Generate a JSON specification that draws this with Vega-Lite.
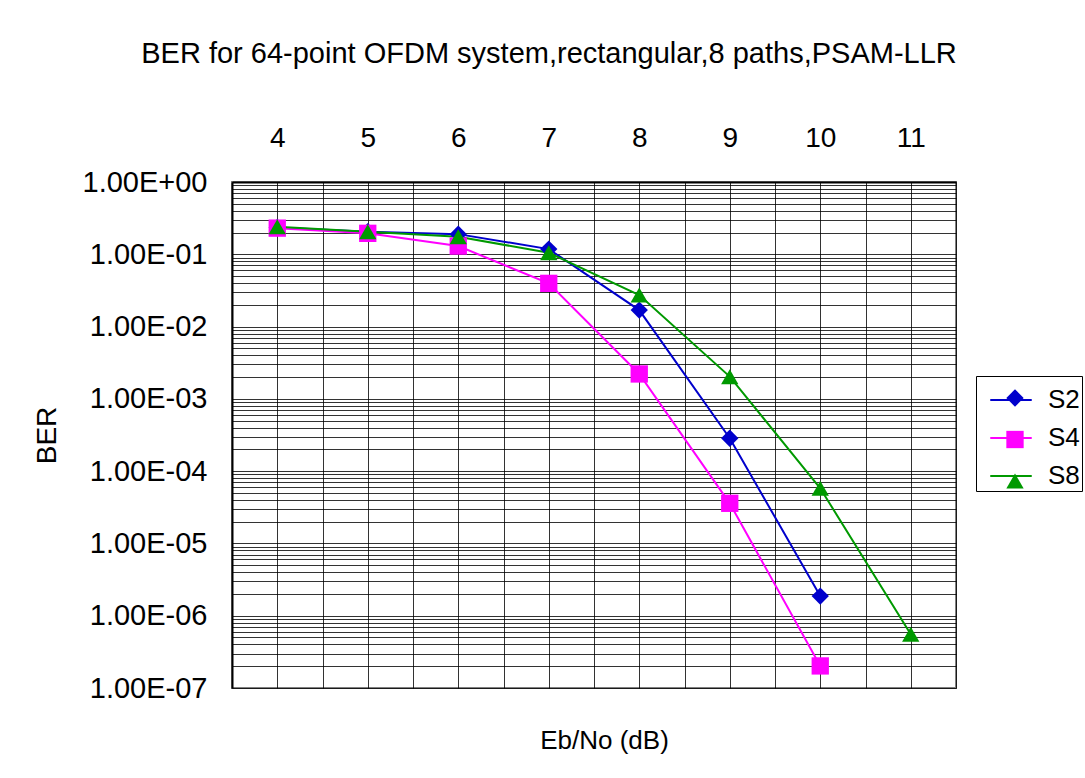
{
  "$schema": "https://vega.github.io/schema/vega-lite/v6.json",
  "width": 724,
  "height": 506,
  "autosize": {"type": "none"},
  "padding": {"left": 232, "top": 182, "right": 129, "bottom": 90},
  "background": "white",
  "config": {
    "font": "Liberation Sans",
    "view": {"stroke": "#808080", "strokeWidth": 2},
    "axis": {"labelFont": "Liberation Sans", "titleFont": "Liberation Sans", "labelColor": "black", "titleColor": "black", "titleFontWeight": "normal"}
  },
  "title": {
    "text": "BER for 64-point OFDM system,rectangular,8 paths,PSAM-LLR",
    "fontSize": 29,
    "fontWeight": "normal",
    "font": "Liberation Sans",
    "color": "black",
    "anchor": "middle",
    "frame": "group",
    "offset": 55,
    "dx": -45
  },
  "data": {
    "values": [
      {"ebno": 4, "series": "S2", "name": "S2", "ber": 0.235},
      {"ebno": 5, "series": "S2", "name": "S2", "ber": 0.205},
      {"ebno": 6, "series": "S2", "name": "S2", "ber": 0.19},
      {"ebno": 7, "series": "S2", "name": "S2", "ber": 0.118},
      {"ebno": 8, "series": "S2", "name": "S2", "ber": 0.0169},
      {"ebno": 9, "series": "S2", "name": "S2", "ber": 0.000285},
      {"ebno": 10, "series": "S2", "name": "S2", "ber": 0.00000187},
      {"ebno": 4, "series": "S4", "name": "S4", "ber": 0.23},
      {"ebno": 5, "series": "S4", "name": "S4", "ber": 0.195},
      {"ebno": 6, "series": "S4", "name": "S4", "ber": 0.13},
      {"ebno": 7, "series": "S4", "name": "S4", "ber": 0.0396},
      {"ebno": 8, "series": "S4", "name": "S4", "ber": 0.00221},
      {"ebno": 9, "series": "S4", "name": "S4", "ber": 0.0000359},
      {"ebno": 10, "series": "S4", "name": "S4", "ber": 0.000000202},
      {"ebno": 4, "series": "S8", "name": "S8", "ber": 0.24},
      {"ebno": 5, "series": "S8", "name": "S8", "ber": 0.205},
      {"ebno": 6, "series": "S8", "name": "S8", "ber": 0.175},
      {"ebno": 7, "series": "S8", "name": "S8", "ber": 0.105},
      {"ebno": 8, "series": "S8", "name": "S8", "ber": 0.0273},
      {"ebno": 9, "series": "S8", "name": "S8", "ber": 0.00203},
      {"ebno": 10, "series": "S8", "name": "S8", "ber": 0.0000579},
      {"ebno": 11, "series": "S8", "name": "S8", "ber": 0.000000553}
    ]
  },
  "encoding": {
    "y": {
      "field": "ber",
      "type": "quantitative",
      "scale": {"type": "log", "domain": [0.0000001, 1], "nice": false},
      "axis": {
        "title": "BER",
        "titleFontSize": 28,
        "titleX": -185,
        "titleY": 253,
        "titleAngle": -90,
        "titleAlign": "center",
        "titleBaseline": "middle",
        "values": [0.0000001,0.0000002,0.0000003,0.0000004,0.0000005,0.0000006,0.0000007,0.0000008,0.0000009,
                   0.000001,0.000002,0.000003,0.000004,0.000005,0.000006,0.000007,0.000008,0.000009,
                   0.00001,0.00002,0.00003,0.00004,0.00005,0.00006,0.00007,0.00008,0.00009,
                   0.0001,0.0002,0.0003,0.0004,0.0005,0.0006,0.0007,0.0008,0.0009,
                   0.001,0.002,0.003,0.004,0.005,0.006,0.007,0.008,0.009,
                   0.01,0.02,0.03,0.04,0.05,0.06,0.07,0.08,0.09,
                   0.1,0.2,0.3,0.4,0.5,0.6,0.7,0.8,0.9,1],
        "labelExpr": "abs(log(datum.value)/LN10 - round(log(datum.value)/LN10)) < 0.01 ? ('1.00E' + (datum.value < 0.5 ? '-0' + abs(round(log(datum.value)/LN10)) : '+00')) : ''",
        "labelFontSize": 29,
        "labelPadding": 25,
        "labelOverlap": false,
        "labelFlush": false,
        "ticks": false,
        "tickSize": 0,
        "domainColor": "black",
        "domainWidth": 2,
        "grid": true,
        "gridColor": "black",
        "gridOpacity": 0.8,
        "gridWidth": 1
      }
    }
  },
  "layer": [
    {
      "mark": {"type": "line", "strokeWidth": 2},
      "encoding": {
        "x": {
          "field": "ebno",
          "type": "quantitative",
          "scale": {"domain": [3.5, 11.5], "nice": false, "zero": false},
          "axis": {
            "orient": "top",
            "title": null,
            "values": [3.5,4,4.5,5,5.5,6,6.5,7,7.5,8,8.5,9,9.5,10,10.5,11,11.5],
            "labelExpr": "datum.value % 1 == 0 ? datum.value + '' : ''",
            "labelFontSize": 28,
            "labelPadding": 36,
            "labelBaseline": "alphabetic",
            "labelOverlap": false,
            "labelFlush": false,
            "ticks": false,
            "tickSize": 0,
            "domainColor": "black",
            "domainWidth": 2,
            "grid": true,
            "gridColor": "black",
            "gridOpacity": 0.8,
            "gridWidth": 1
          }
        },
        "color": {
          "field": "series",
          "type": "nominal",
          "scale": {"range": ["#0000CC", "#FF00FF", "#009900"]},
          "legend": {
            "orient": "none",
            "legendX": 744,
            "legendY": 194,
            "title": null,
            "strokeColor": "black",
            "fillColor": "white",
            "padding": 2,
            "labelFontSize": 26,
            "labelFont": "Liberation Sans",
            "labelColor": "black",
            "symbolType": "stroke",
            "symbolSize": 1722,
            "symbolStrokeWidth": 2,
            "symbolOffset": 11,
            "labelOffset": 15,
            "rowPadding": 3
          }
        }
      }
    },
    {
      "mark": {"type": "point", "filled": true, "size": 300, "opacity": 1},
      "encoding": {
        "x": {
          "field": "ebno",
          "type": "quantitative",
          "scale": {"domain": [3.5, 11.5], "nice": false, "zero": false},
          "axis": {
            "orient": "bottom",
            "title": "Eb/No (dB)",
            "titleFontSize": 26,
            "titleX": 372,
            "titleY": 52,
            "titleAlign": "center",
            "titleBaseline": "middle",
            "labels": false,
            "ticks": false,
            "domain": false,
            "grid": false
          }
        },
        "fill": {
          "field": "name",
          "type": "nominal",
          "scale": {"range": ["#0000CC", "#FF00FF", "#009900"]},
          "legend": {
            "orient": "none",
            "legendX": 744,
            "legendY": 201,
            "title": null,
            "padding": 2,
            "labelFontSize": 26,
            "labelFont": "Liberation Sans",
            "labelColor": "transparent",
            "labelExpr": "''",
            "symbolSize": 300,
            "symbolOffset": 24,
            "rowPadding": 15.5
          }
        },
        "shape": {
          "field": "name",
          "type": "nominal",
          "scale": {"range": ["diamond", "square", "triangle-up"]},
          "legend": {
            "orient": "none",
            "legendX": 744,
            "legendY": 201,
            "title": null,
            "padding": 2,
            "labelFontSize": 26,
            "labelFont": "Liberation Sans",
            "labelColor": "transparent",
            "labelExpr": "''",
            "symbolSize": 300,
            "symbolOffset": 24,
            "rowPadding": 15.5
          }
        }
      }
    }
  ],
  "resolve": {"axis": {"x": "independent"}}
}
